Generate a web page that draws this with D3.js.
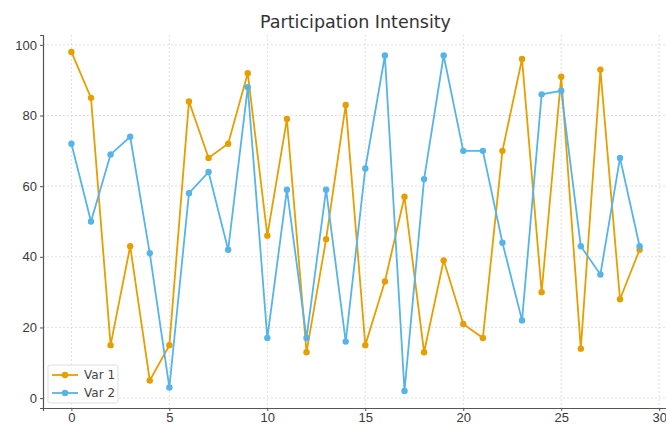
<!DOCTYPE html>
<html>
<head>
<meta charset="utf-8">
<script src="https://cdn.jsdelivr.net/npm/d3@7"></script>
<style>
  body { margin: 0; background: #fff; }
  svg { display: block; font-family: "DejaVu Sans", sans-serif; }
  .grid line { stroke: #d8d8d8; stroke-dasharray: 2,2; stroke-width: 0.8; }
  .axis path, .axis line { stroke: #555; }
  .axis text { fill: #3a3a3a; font-size: 13px; }
</style>
</head>
<body>
<svg id="chart"></svg>
<script>
const xValues = d3.range(0, 30);
const var1 = [98, 85, 15, 43, 5, 15, 84, 68, 72, 92, 46, 79, 13, 45, 83, 15, 33, 57, 13, 39, 21, 17, 70, 96, 30, 91, 14, 93, 28, 42];
const var2 = [72, 50, 69, 74, 41, 3, 58, 64, 42, 88, 17, 59, 17, 59, 16, 65, 97, 2, 62, 97, 70, 70, 44, 22, 86, 87, 43, 35, 68, 43];
const xTicks = [0, 5, 10, 15, 20, 25, 30];
const yTicks = [0, 20, 40, 60, 80, 100];
const seriesNames = ["Var 1", "Var 2"];

const colors = { "Var 1": "#E69F00", "Var 2": "#56B4E9" };

const width = 666;
const height = 425;
const margin = { top: 35, right: -2, bottom: 17, left: 43 };
const chartWidth = width - margin.left - margin.right;
const chartHeight = height - margin.top - margin.bottom;

const svg = d3.select("#chart")
  .attr("width", width)
  .attr("height", height);

const g = svg.append("g")
  .attr("transform", `translate(${margin.left},${margin.top})`);

const xScale = d3.scaleLinear()
  .domain([-1.45, 30.45])
  .range([0, chartWidth]);

const yScale = d3.scaleLinear()
  .domain([-2.8, 102.8])
  .range([chartHeight, 0]);

// grid
g.append("g")
  .attr("class", "grid")
  .selectAll("line.v")
  .data(xTicks)
  .enter()
  .append("line")
  .attr("x1", d => xScale(d))
  .attr("x2", d => xScale(d))
  .attr("y1", 0)
  .attr("y2", chartHeight);

g.append("g")
  .attr("class", "grid")
  .selectAll("line.h")
  .data(yTicks)
  .enter()
  .append("line")
  .attr("x1", 0)
  .attr("x2", chartWidth)
  .attr("y1", d => yScale(d))
  .attr("y2", d => yScale(d));

// axes
g.append("g")
  .attr("class", "axis x-axis")
  .attr("transform", `translate(0,${chartHeight})`)
  .call(d3.axisBottom(xScale).tickValues(xTicks).tickSizeOuter(0).tickSize(3).tickPadding(2));

g.append("g")
  .attr("class", "axis y-axis")
  .call(d3.axisLeft(yScale).tickValues(yTicks).tickSizeOuter(0).tickSize(3).tickPadding(3));

g.selectAll(".axis .domain").attr("stroke-width", 1.2);

// series
const series = [
  { name: "Var 1", values: var1 },
  { name: "Var 2", values: var2 }
];

const line = d3.line()
  .x((d, i) => xScale(xValues[i]))
  .y(d => yScale(d));

series.forEach(s => {
  g.append("path")
    .datum(s.values)
    .attr("fill", "none")
    .attr("stroke", colors[s.name])
    .attr("stroke-width", 1.8)
    .attr("d", line);

  g.selectAll(`.pt-${s.name.replace(" ", "")}`)
    .data(s.values)
    .enter()
    .append("circle")
    .attr("cx", (d, i) => xScale(xValues[i]))
    .attr("cy", d => yScale(d))
    .attr("r", 3.2)
    .attr("fill", colors[s.name]);
});

// title
svg.append("text")
  .attr("x", margin.left + chartWidth / 2)
  .attr("y", 28)
  .attr("text-anchor", "middle")
  .style("font-size", "17.5px")
  .style("fill", "#333")
  .text("Participation Intensity");

// legend
const legend = g.append("g")
  .attr("transform", `translate(5, ${chartHeight - 43})`);

legend.append("rect")
  .attr("width", 70)
  .attr("height", 38)
  .attr("rx", 2)
  .attr("fill", "#fff")
  .attr("fill-opacity", 0.8)
  .attr("stroke", "#ddd");

const legendItems = legend.selectAll(".legend-item")
  .data(seriesNames)
  .enter()
  .append("g")
  .attr("transform", (d, i) => `translate(0, ${10 + i * 18})`);

legendItems.append("line")
  .attr("x1", 4)
  .attr("x2", 30)
  .attr("stroke", d => colors[d])
  .attr("stroke-width", 1.8);

legendItems.append("circle")
  .attr("cx", 17)
  .attr("r", 3.2)
  .attr("fill", d => colors[d]);

legendItems.append("text")
  .attr("x", 36)
  .attr("dy", "0.35em")
  .style("font-size", "12px")
  .style("fill", "#444")
  .text(d => d);
</script>
</body>
</html>
